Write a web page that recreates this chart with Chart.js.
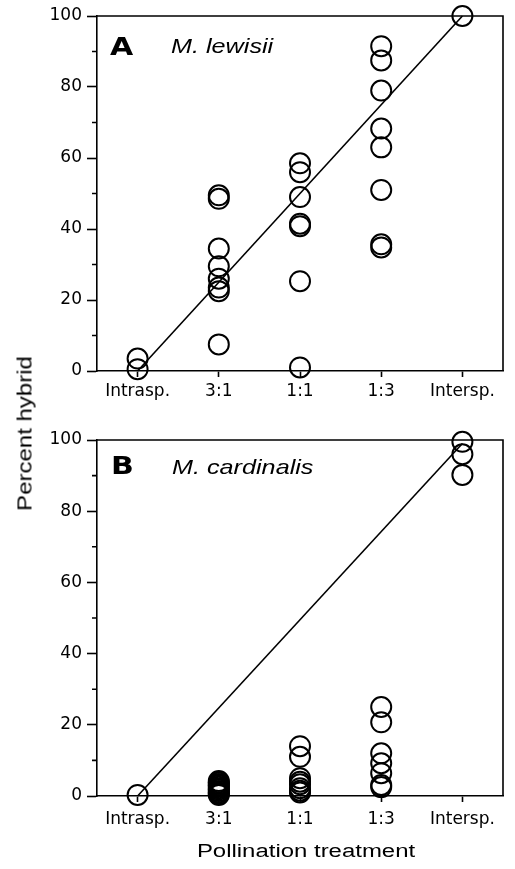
<!DOCTYPE html>
<html>
<head>
<meta charset="utf-8">
<script src="https://cdn.jsdelivr.net/npm/chart.js@4"></script>
<style>
  body { margin: 0; background: #fff; }
  #wrap { position: relative; width: 515px; height: 869px; }
  canvas { position: absolute; left: 0; }
  #chartA { top: 0; }
  #chartB { top: 420px; }
  #ytitle {
    position: absolute; left: -75px; top: 422px; width: 200px;
    text-align: center; font: 20px 'Liberation Sans', Arial, sans-serif;
    transform: rotate(-90deg) scaleX(1.2); color: #000;
  }
</style>
</head>
<body>
<div id="wrap">
  <canvas id="chartA" width="515" height="400"></canvas>
  <canvas id="chartB" width="515" height="449"></canvas>
  <div id="ytitle">Percent hybrid</div>
</div>
<script>
// Data
const categories = ['Intrasp.', '3:1', '1:1', '1:3', 'Intersp.'];
const yTicks = [0, 20, 40, 60, 80, 100];
const yMinorTicks = [10, 30, 50, 70, 90];

// Panel A - M. lewisii
const lewisiiIntrasp = [3.5, 0.5];
const lewisii31 = [49.5, 48.5, 34.5, 29.5, 26, 23.5, 22.5, 7.5];
const lewisii11 = [58.5, 56, 49, 41.5, 40.8, 25.3, 1];
const lewisii13 = [91.5, 87.5, 79, 68.3, 63, 51, 35.7, 34.8];
const lewisiiIntersp = [100];
const lewisiiLine = [0, 100];

// Panel B - M. cardinalis
const cardinalisIntrasp = [0.3];
const cardinalis31 = [4.2, 3.8, 3.4, 3, 2.6, 2.2, 1.8, 1.4, 1, 0.6, 0.3];
const cardinalis11 = [14, 11, 5, 4, 3.3, 2.2, 1.5, 1];
const cardinalis13 = [25, 20.7, 12, 9.2, 6.4, 3.1, 2.5];
const cardinalisIntersp = [99.5, 96, 90.2];
const cardinalisLine = [0, 99];

const TEXT_FONT = "'Liberation Sans', Arial, sans-serif";
const TICK_FONT = { family: "'DejaVu Sans', sans-serif", size: 17 };

function toPoints(catIndex, vals) {
    return vals.map(v => ({ x: catIndex, y: v }));
}

function circles(groups) {
    let pts = [];
    groups.forEach((vals, i) => { pts = pts.concat(toPoints(i, vals)); });
    return {
        type: 'scatter',
        data: pts,
        pointStyle: 'circle',
        pointRadius: 10,
        pointHoverRadius: 10,
        borderWidth: 2,
        borderColor: '#000',
        backgroundColor: 'rgba(0,0,0,0)',
        clip: false
    };
}

function fitLine(ends) {
    return {
        type: 'line',
        data: [{ x: 0, y: ends[0] }, { x: categories.length - 1, y: ends[1] }],
        borderColor: '#000',
        borderWidth: 1.6,
        pointRadius: 0,
        fill: false,
        clip: false
    };
}

// top/right frame, minor ticks and stretched text labels
const decorations = {
    id: 'decorations',
    afterDraw(chart, args, opts) {
        const ctx = chart.ctx;
        const a = chart.chartArea;
        const ys = chart.scales.y;
        ctx.save();
        ctx.strokeStyle = '#000';
        ctx.lineWidth = 1.6;
        ctx.beginPath();
        ctx.moveTo(a.left, a.top);
        ctx.lineTo(a.right, a.top);
        ctx.lineTo(a.right, a.bottom);
        yMinorTicks.forEach(v => {
            const y = ys.getPixelForValue(v);
            ctx.moveTo(a.left - 5, y);
            ctx.lineTo(a.left, y);
        });
        ctx.stroke();

        ctx.fillStyle = '#000';
        ctx.textBaseline = 'alphabetic';
        (opts.texts || []).forEach(t => {
            ctx.save();
            ctx.font = t.font;
            ctx.textAlign = t.align || 'left';
            ctx.translate(t.x, t.y);
            ctx.scale(t.sx || 1, 1);
            ctx.fillText(t.text, 0, 0);
            ctx.restore();
        });
        ctx.restore();
    }
};

function makeChart(id, datasets, pad, xHeight, xPad, texts) {
    return new Chart(document.getElementById(id), {
        data: { datasets: datasets },
        options: {
            responsive: false,
            animation: false,
            devicePixelRatio: 1,
            layout: { padding: pad },
            plugins: {
                legend: { display: false },
                tooltip: { enabled: false },
                decorations: { texts: texts }
            },
            scales: {
                x: {
                    type: 'linear',
                    min: -0.5,
                    max: categories.length - 0.5,
                    afterBuildTicks: s => { s.ticks = categories.map((c, i) => ({ value: i })); },
                    afterFit: s => { s.height = xHeight; },
                    ticks: {
                        callback: v => categories[v],
                        color: '#000',
                        font: TICK_FONT,
                        padding: xPad,
                        maxRotation: 0,
                        autoSkip: false
                    },
                    grid: { drawOnChartArea: false, drawTicks: true, tickLength: 6, tickWidth: 1.6, tickColor: '#000' },
                    border: { display: true, color: '#000', width: 1.6 }
                },
                y: {
                    type: 'linear',
                    min: 0,
                    max: 100,
                    afterBuildTicks: s => { s.ticks = yTicks.map(v => ({ value: v })); },
                    afterFit: s => { s.width = 97; },
                    ticks: { color: '#000', font: TICK_FONT, padding: 5 },
                    grid: { drawOnChartArea: false, drawTicks: true, tickLength: 10, tickWidth: 1.6, tickColor: '#000' },
                    border: { display: true, color: '#000', width: 1.6 }
                }
            }
        },
        plugins: [decorations]
    });
}

const LETTER_FONT = "bold 25px 'DejaVu Sans', sans-serif";
const SPECIES_FONT = 'italic 21px ' + TEXT_FONT;

makeChart('chartA',
    [fitLine(lewisiiLine), circles([lewisiiIntrasp, lewisii31, lewisii11, lewisii13, lewisiiIntersp])],
    { top: 16, right: 6, bottom: 0, left: 0 }, 29, 4,
    [
        { text: 'A', font: LETTER_FONT, x: 110, y: 55, sx: 1.2 },
        { text: 'M. lewisii', font: SPECIES_FONT, x: 171, y: 53, sx: 1.2 }
    ]);

makeChart('chartB',
    [fitLine(cardinalisLine), circles([cardinalisIntrasp, cardinalis31, cardinalis11, cardinalis13, cardinalisIntersp])],
    { top: 20, right: 6, bottom: 0, left: 0 }, 73, 7,
    [
        { text: 'B', font: LETTER_FONT, x: 111, y: 54, sx: 1.2 },
        { text: 'M. cardinalis', font: SPECIES_FONT, x: 172, y: 54, sx: 1.2 },
        { text: 'Pollination treatment', font: '18px ' + TEXT_FONT, x: 306, y: 437, sx: 1.33, align: 'center' }
    ]);
</script>
</body>
</html>
